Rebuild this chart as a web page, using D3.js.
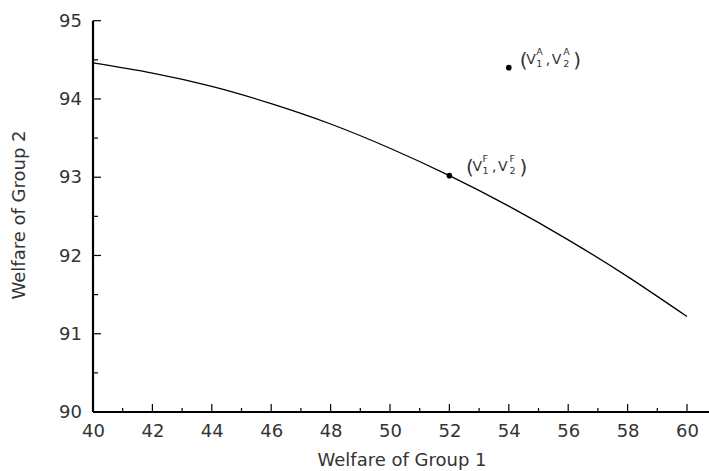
<!DOCTYPE html>
<html>
<head>
<meta charset="utf-8">
<script src="https://cdn.jsdelivr.net/npm/d3@7"></script>
<style>
  html, body { margin: 0; padding: 0; background: #fff; }
  svg { display: block; }
  text { font-family: "DejaVu Sans", "Liberation Sans", Arial, sans-serif; fill: #333; }
</style>
</head>
<body>
<svg id="chart" width="709" height="471"></svg>
<script>
// ---- data ----
const frontierX = [40, 42, 44, 46, 48, 50, 52, 54, 56, 58, 60];
const frontierY = [94.46, 94.33, 94.16, 93.94, 93.68, 93.37, 93.02, 92.63, 92.20, 91.73, 91.22];
const pointNames = ["A", "F"];
const pointX = [54, 52];
const pointY = [94.40, 93.02];
const xTicks = [40, 42, 44, 46, 48, 50, 52, 54, 56, 58, 60];
const xMinorTicks = [41, 43, 45, 47, 49, 51, 53, 55, 57, 59];
const yTicks = [90, 91, 92, 93, 94, 95];
const yMinorTicks = [90.5, 91.5, 92.5, 93.5, 94.5];
const xTitle = "Welfare of Group 1";
const yTitle = "Welfare of Group 2";

// ---- layout ----
const FONT = "DejaVu Sans, Liberation Sans, Arial, sans-serif";
const svg = d3.select("#chart");
const x = d3.scaleLinear().domain([40, 60]).range([93, 687]);
const y = d3.scaleLinear().domain([90, 95]).range([412, 20.7]);

// frontier curve
const line = d3.line().x(d => x(d[0])).y(d => y(d[1])).curve(d3.curveNatural);
svg.append("path")
  .datum(frontierX.map((v, i) => [v, frontierY[i]]))
  .attr("d", line)
  .attr("fill", "none")
  .attr("stroke", "#000")
  .attr("stroke-width", 1.3);

// axes (labels)
const xAxis = d3.axisBottom(x).tickValues(xTicks).tickSize(0).tickPadding(12).tickFormat(d3.format("d"));
const gx = svg.append("g").attr("transform", "translate(0,412)").call(xAxis);
gx.select(".domain").remove();
gx.selectAll("text").attr("font-size", 18).attr("dy", "0.71em").style("font-family", FONT).attr("fill", "#333");

const yAxis = d3.axisLeft(y).tickValues(yTicks).tickSize(0).tickPadding(11).tickFormat(d3.format("d"));
const gy = svg.append("g").attr("transform", "translate(93,0)").call(yAxis);
gy.select(".domain").remove();
gy.selectAll("text").attr("font-size", 18).style("font-family", FONT).attr("fill", "#333");

// axis lines
svg.append("line").attr("x1", x(40)).attr("x2", 709).attr("y1", y(90)).attr("y2", y(90))
  .attr("stroke", "#000").attr("stroke-width", 2.2);
svg.append("line").attr("x1", x(40)).attr("x2", x(40)).attr("y1", y(90)).attr("y2", y(95))
  .attr("stroke", "#000").attr("stroke-width", 2.2);

// inward ticks
svg.selectAll(".xmaj").data(xTicks).enter().append("line")
  .attr("x1", d => x(d)).attr("x2", d => x(d)).attr("y1", y(90)).attr("y2", y(90) - 8)
  .attr("stroke", "#000").attr("stroke-width", 1.2);
svg.selectAll(".xmin").data(xMinorTicks).enter().append("line")
  .attr("x1", d => x(d)).attr("x2", d => x(d)).attr("y1", y(90)).attr("y2", y(90) - 4)
  .attr("stroke", "#000").attr("stroke-width", 1.2);
svg.selectAll(".ymaj").data(yTicks).enter().append("line")
  .attr("x1", x(40)).attr("x2", x(40) + 8).attr("y1", d => y(d)).attr("y2", d => y(d))
  .attr("stroke", "#000").attr("stroke-width", 1.2);
svg.selectAll(".ymin").data(yMinorTicks).enter().append("line")
  .attr("x1", x(40)).attr("x2", x(40) + 5).attr("y1", d => y(d)).attr("y2", d => y(d))
  .attr("stroke", "#000").attr("stroke-width", 1.2);

// titles
svg.append("text").attr("x", 402).attr("y", 466).attr("text-anchor", "middle")
  .attr("font-size", 18).text(xTitle);
svg.append("text").attr("transform", "translate(25,215) rotate(-90)").attr("text-anchor", "middle")
  .attr("font-size", 18).text(yTitle);

// points
svg.selectAll(".pt").data(pointNames).enter().append("circle")
  .attr("cx", (d, i) => x(pointX[i])).attr("cy", (d, i) => y(pointY[i]))
  .attr("r", 2.8).attr("fill", "#000");

// labels (V1^k, V2^k)
const labelOffsets = { A: [11, -3.5], F: [16.5, -4.5] };
pointNames.forEach((name, i) => {
  const px = x(pointX[i]) + labelOffsets[name][0];
  const py = y(pointY[i]) + labelOffsets[name][1];
  const g = svg.append("g").attr("transform", `translate(${px},${py})`);
  g.append("text").attr("x", 0).attr("y", 3).attr("font-size", 20).attr("font-family", "Liberation Sans, Arial, sans-serif").text("(");
  g.append("text").attr("x", 6.5).attr("y", 0).attr("font-size", 14).text("V");
  g.append("text").attr("x", 16.5).attr("y", -9).attr("font-size", 9.5).text(name);
  g.append("text").attr("x", 16.5).attr("y", 2.5).attr("font-size", 9.5).text("1");
  g.append("text").attr("x", 26).attr("y", 0).attr("font-size", 14).text(",");
  g.append("text").attr("x", 32).attr("y", 0).attr("font-size", 14).text("V");
  g.append("text").attr("x", 43.5).attr("y", -9).attr("font-size", 9.5).text(name);
  g.append("text").attr("x", 43.5).attr("y", 2.5).attr("font-size", 9.5).text("2");
  g.append("text").attr("x", 53.5).attr("y", 3).attr("font-size", 20).attr("font-family", "Liberation Sans, Arial, sans-serif").text(")");
});
</script>
</body>
</html>
